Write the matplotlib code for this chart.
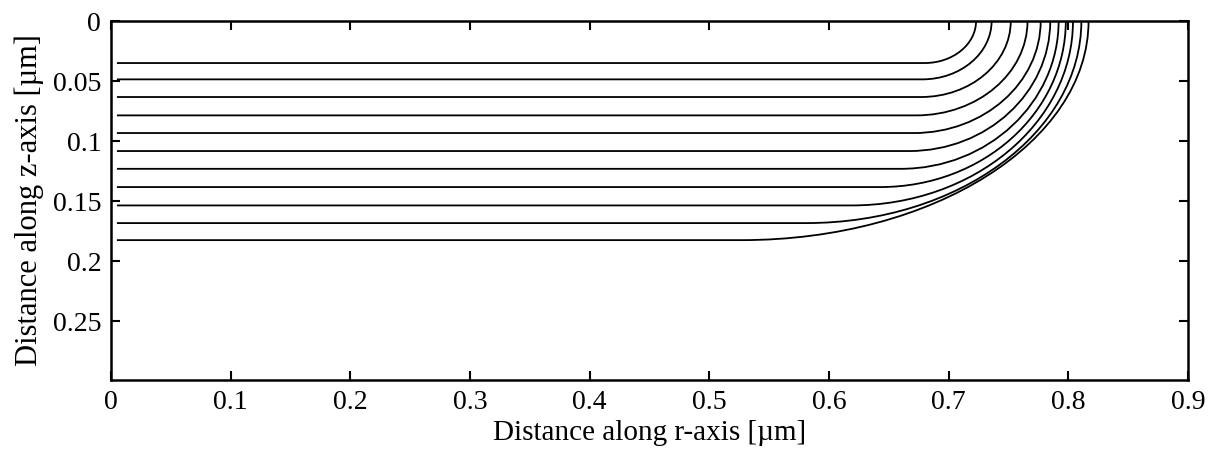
import matplotlib.pyplot as plt
from matplotlib.path import Path
from matplotlib.patches import PathPatch

plt.rcParams['font.family'] = ['Liberation Serif', 'DejaVu Serif']

# contour lines (um)
depth = [0.035, 0.0486, 0.0633, 0.0786, 0.0933, 0.1083, 0.1231, 0.1383, 0.1536, 0.1683, 0.1825]
r_knee = [0.680, 0.678, 0.677, 0.673, 0.671, 0.667, 0.660, 0.643, 0.619, 0.581, 0.527]
r_edge = [0.723, 0.736, 0.752, 0.766, 0.777, 0.785, 0.792, 0.798, 0.804, 0.811, 0.817]
r_start = 0.005

x_ticks = [0, 0.1, 0.2, 0.3, 0.4, 0.5, 0.6, 0.7, 0.8, 0.9]
x_labels = ['0', '0.1', '0.2', '0.3', '0.4', '0.5', '0.6', '0.7', '0.8', '0.9']
y_ticks = [0, 0.05, 0.1, 0.15, 0.2, 0.25]
y_labels = ['0', '0.05', '0.1', '0.15', '0.2', '0.25']

K = 0.5523  # bezier factor for a quarter ellipse

fig = plt.figure(figsize=(12.1, 4.54), dpi=100)
ax = fig.add_axes([0.0917, 0.163, 0.89, 0.7907])

for z, rk, re in zip(depth, r_knee, r_edge):
    w = re - rk
    verts = [(r_start, z), (rk, z), (rk + K * w, z), (re, K * z), (re, 0.0)]
    codes = [Path.MOVETO, Path.LINETO, Path.CURVE4, Path.CURVE4, Path.CURVE4]
    ax.add_patch(PathPatch(Path(verts, codes), fill=False, lw=1.3, ec='black'))

ax.set_xlim(0, 0.9)
ax.set_ylim(0.299, 0)
ax.set_xticks(x_ticks, x_labels)
ax.set_yticks(y_ticks, y_labels)
ax.tick_params(direction='in', top=True, right=True, length=6.5, width=1.5,
               labelsize=20, pad=7)
for s in ax.spines.values():
    s.set_linewidth(1.8)

ax.set_xlabel('Distance along r-axis [µm]', fontsize=21, labelpad=4)
ax.set_ylabel('Distance along z-axis [µm]', fontsize=22, labelpad=6)

fig.savefig('out.png', dpi=100)
